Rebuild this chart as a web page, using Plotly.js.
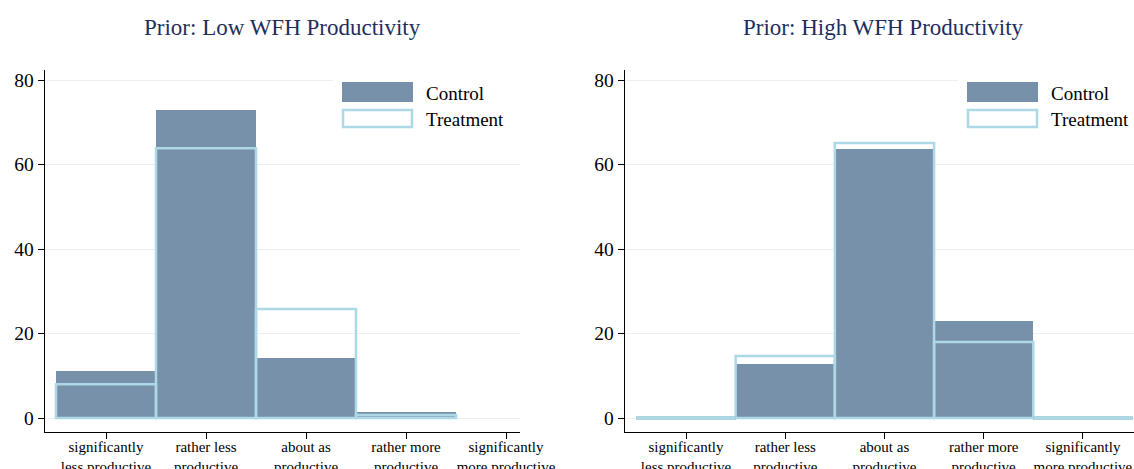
<!DOCTYPE html>
<html><head><meta charset="utf-8">
<script src="https://cdn.plot.ly/plotly-3.0.1.min.js"></script>
<style>html,body{margin:0;padding:0;background:#fff;}#chart{width:1134px;height:469px;}</style>
</head><body><div id="chart"></div>
<script>
const categories = [1, 2, 3, 4, 5];
const tickLabels = ["significantly<br>less productive", "rather less<br>productive", "about as<br>productive", "rather more<br>productive", "significantly<br>more productive"];
const lowControl = [11.1, 72.9, 14.2, 1.5, null];
const lowTreatment = [8.0, 63.9, 25.8, 0.7, null];
const highControl = [0, 12.8, 63.7, 23.0, 0];
const highTreatment = [0, 14.7, 65.1, 18.0, 0];
const panelTitles = ["Prior: Low WFH Productivity", "Prior: High WFH Productivity"];
const seriesNames = ["Control", "Treatment"];

const W = 1134, H = 469;
const px = v => v / W, py = v => 1 - v / H;
const CTRL = '#7891aa', TREAT = '#add8e6';
const FONT = 'Liberation Serif, Times New Roman, serif';

function zeroSegs(vals) {
  const xs = [], ys = [];
  vals.forEach((v, i) => { if (v === 0) { xs.push(categories[i] - 0.5, categories[i] + 0.5, null); ys.push(0, 0, null); } });
  return {xs, ys};
}

const traces = [];
[[lowControl, lowTreatment, 'x', 'y'], [highControl, highTreatment, 'x2', 'y2']].forEach(([c, t, xa, ya]) => {
  traces.push({type: 'bar', x: categories, y: c, width: 1, xaxis: xa, yaxis: ya, name: seriesNames[0],
    marker: {color: CTRL, line: {width: 0}}, showlegend: false, hoverinfo: 'skip'});
  const zc = zeroSegs(c);
  traces.push({type: 'scatter', mode: 'lines', x: zc.xs, y: zc.ys, xaxis: xa, yaxis: ya, line: {color: CTRL, width: 3}, showlegend: false, hoverinfo: 'skip'});
  traces.push({type: 'bar', x: categories, y: t, width: 1, xaxis: xa, yaxis: ya, name: seriesNames[1],
    marker: {color: 'rgba(0,0,0,0)', line: {color: TREAT, width: 2.5}}, showlegend: false, hoverinfo: 'skip'});
  const zt = zeroSegs(t);
  traces.push({type: 'scatter', mode: 'lines', x: zt.xs, y: zt.ys, xaxis: xa, yaxis: ya, line: {color: TREAT, width: 3.5}, showlegend: false, hoverinfo: 'skip'});
});

const ydom = [py(432), py(70)];
const yrange = [-3.3, 82.4];
function xaxis(dom, range) {
  return {domain: dom, range: range, tickvals: categories, ticktext: tickLabels, ticks: 'outside', ticklen: 6,
    tickcolor: '#000', showline: true, linecolor: '#000', linewidth: 1.3, showgrid: false, zeroline: false,
    ticklabelstandoff: -5,
    tickfont: {family: FONT, size: 15, color: '#000'}, fixedrange: true};
}
function yaxis(anchor) {
  return {domain: ydom, range: yrange, anchor: anchor, tickvals: [0, 20, 40, 60, 80], ticks: 'outside', ticklen: 6,
    tickcolor: '#000', showline: true, linecolor: '#000', linewidth: 1.3, showgrid: true, gridcolor: '#eaf0f2',
    gridwidth: 1, zeroline: false, tickfont: {family: FONT, size: 19.5, color: '#000'}, fixedrange: true};
}

const shapes = [], annotations = [];
[0, 625].forEach((off, k) => {
  const right = k === 0 ? 520 : 1134;
  shapes.push({type: 'rect', xref: 'paper', yref: 'paper', x0: px(333 + off), x1: px(right), y0: py(137), y1: py(73),
    fillcolor: '#fff', line: {width: 0}, layer: 'above'});
  shapes.push({type: 'rect', xref: 'paper', yref: 'paper', x0: px(342 + off), x1: px(413 + off), y0: py(102), y1: py(82),
    fillcolor: CTRL, line: {width: 0}, layer: 'above'});
  shapes.push({type: 'rect', xref: 'paper', yref: 'paper', x0: px(343 + off), x1: px(412 + off), y0: py(127), y1: py(110),
    fillcolor: '#fff', line: {color: TREAT, width: 2.5}, layer: 'above'});
  annotations.push({xref: 'paper', yref: 'paper', x: px(424 + off), y: py(93), xanchor: 'left', yanchor: 'middle',
    text: seriesNames[0], showarrow: false, font: {family: FONT, size: 19, color: '#000'}});
  annotations.push({xref: 'paper', yref: 'paper', x: px(424 + off), y: py(119), xanchor: 'left', yanchor: 'middle',
    text: seriesNames[1], showarrow: false, font: {family: FONT, size: 19, color: '#000'}});
  annotations.push({xref: 'paper', yref: 'paper', x: px(k === 0 ? 282 : 883), y: py(27), xanchor: 'center', yanchor: 'middle',
    text: panelTitles[k], showarrow: false, font: {family: FONT, size: 23, color: '#1e2e5c'}});
});

const layout = {
  width: W, height: H, autosize: false, margin: {l: 0, r: 0, t: 0, b: 0},
  paper_bgcolor: '#fff', plot_bgcolor: '#fff', barmode: 'overlay', bargap: 0, showlegend: false,
  xaxis: Object.assign(xaxis([px(45), px(520)], [0.39, 5.14]), {anchor: 'y'}),
  yaxis: yaxis('x'),
  xaxis2: Object.assign(xaxis([px(625), 1], [0.385, 5.515]), {anchor: 'y2'}),
  yaxis2: yaxis('x2'),
  shapes: shapes, annotations: annotations
};
Plotly.newPlot('chart', traces, layout, {displayModeBar: false, staticPlot: true});
</script></body></html>
